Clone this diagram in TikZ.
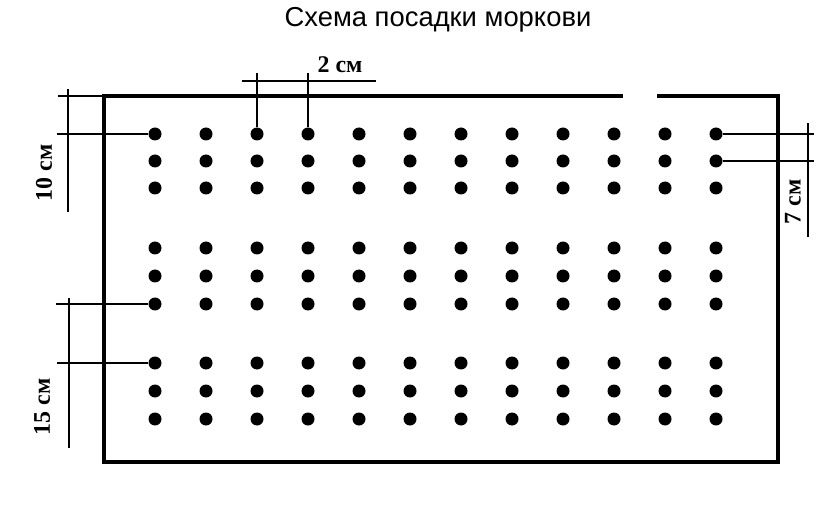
\documentclass[tikz,border=0pt]{standalone}
\usepackage{fontspec}
\setmainfont{Liberation Serif}
\newfontfamily\titlefont{Liberation Sans}

\tikzset{
	dot/.style={circle,fill=black,inner sep=0pt,minimum size=13bp},
	bed/.style={line width=3.2bp},
	dimline/.style={line width=1.4bp},
	dimtext/.style={font=\fontsize{24}{24}\selectfont\bfseries,inner sep=0pt}
}

\begin{document}
\begin{tikzpicture}[x=1bp,y=-1bp]
	\useasboundingbox (0,0) rectangle (840,520);
	\node[font=\titlefont\fontsize{27.5}{27.5}\selectfont] (title) at (438,20) {Схема посадки моркови};
	
	\foreach \c in {1,...,12}
		\foreach \r/\y in {1/134,2/161,3/188,4/248,5/276,6/304,7/363,8/391,9/419}
			\node[dot] (d-\c-\r) at ({155+51*(\c-1)},\y) {};
	
	\draw[bed] (623,96)--(104,96)--(104,462)--(778,462)--(778,96)--(657,96);
	
	\coordinate (a1) at (58,96);
	\coordinate (a2) at (57,134);
	\draw[dimline] (104,96)--(a1);
	\draw[dimline] (d-1-1)--(a2);
	\draw[dimline] (68,89)--(68,212);
	\node[dimtext,rotate=90] (t10) at (44,173) {10 см};
	
	\coordinate (b1) at (56,304);
	\coordinate (b2) at (57,363);
	\draw[dimline] (d-1-6)--(b1);
	\draw[dimline] (d-1-7)--(b2);
	\draw[dimline] (69,298)--(69,448);
	\node[dimtext,rotate=90] (t15) at (42,407) {15 см};
	
	\coordinate (c1) at (257,73);
	\coordinate (c2) at (308,73);
	\draw[dimline] (d-3-1)--(c1);
	\draw[dimline] (d-4-1)--(c2);
	\draw[dimline] (242,81)--(376,81);
	\node[dimtext] (t2) at (340,65) {2 см};
	
	\coordinate (e1) at (814,134);
	\coordinate (e2) at (814,161);
	\draw[dimline] (d-12-1)--(e1);
	\draw[dimline] (d-12-2)--(e2);
	\draw[dimline] (808,123)--(808,237);
	\node[dimtext,rotate=90] (t7) at (793,202) {7 см};
\end{tikzpicture}
\end{document}
